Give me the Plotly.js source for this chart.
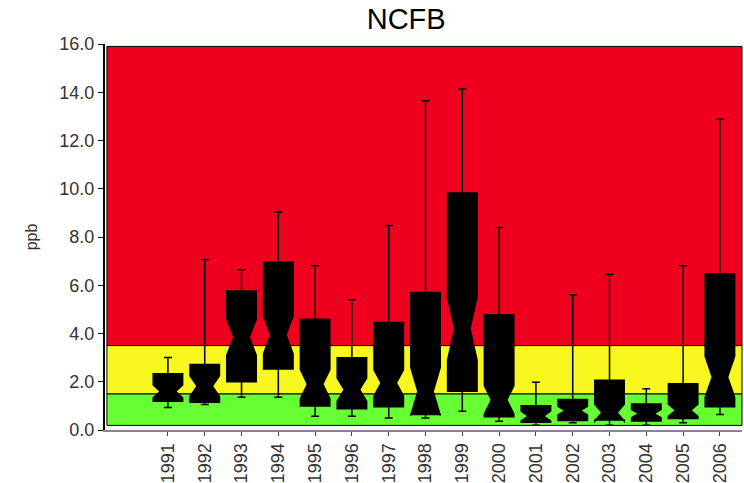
<!DOCTYPE html>
<html>
<head>
<meta charset="utf-8">
<script src="https://cdn.plot.ly/plotly-3.0.1.min.js"></script>
<style>html,body{margin:0;padding:0;background:#fff;}#chart{width:744px;height:483px;}</style>
</head>
<body>
<div id="chart"></div>
<script>
const years = ['1991','1992','1993','1994','1995','1996','1997','1998','1999','2000','2001','2002','2003','2004','2005','2006'];
const lowerWhisker = [0.93, 1.06, 1.36, 1.36, 0.57, 0.57, 0.50, 0.50, 0.78, 0.36, 0.20, 0.30, 0.20, 0.20, 0.30, 0.64];
const q1Values     = [1.19, 1.15, 2.00, 2.53, 0.99, 0.88, 0.96, 0.64, 1.61, 0.55, 0.32, 0.39, 0.41, 0.37, 0.48, 0.96];
const medians      = [1.60, 1.82, 3.85, 3.95, 1.90, 1.67, 1.95, 1.60, 4.20, 1.25, 0.58, 0.80, 0.72, 0.68, 0.82, 2.20];
const q3Values     = [2.33, 2.71, 5.76, 6.95, 4.59, 2.99, 4.46, 5.70, 9.82, 4.78, 1.01, 1.26, 2.06, 1.08, 1.92, 6.48];
const upperWhisker = [3.01, 7.07, 6.64, 9.04, 6.81, 5.40, 8.48, 13.65, 14.13, 8.39, 1.98, 5.61, 6.45, 1.71, 6.81, 12.89];
const notchSpans   = [0.27, 0.43, 0.75, 0.78, 0.60, 0.48, 0.55, 1.00, 1.30, 0.58, 0.20, 0.18, 0.35, 0.17, 0.25, 0.85];
const bandLimits = [0.19, 1.5, 3.5, 15.9];
const bandColors = ['#66FF33', '#F8F820', '#EF001E'];

const trace = {
  type: 'box',
  x: years,
  q1: q1Values,
  median: medians,
  q3: q3Values,
  lowerfence: lowerWhisker,
  upperfence: upperWhisker,
  notchspan: notchSpans,
  notched: true,
  notchwidth: 0.24,
  width: 0.8,
  whiskerwidth: 0.27,
  boxpoints: false,
  fillcolor: '#000000',
  line: {color: '#000000', width: 1.5},
  hoverinfo: 'skip',
  showlegend: false
};

const shapes = [];
for (let i = 0; i < bandColors.length; i++) {
  shapes.push({
    type: 'rect', xref: 'paper', yref: 'y',
    x0: 0.003, x1: 1, y0: bandLimits[i], y1: bandLimits[i+1],
    fillcolor: bandColors[i], line: {color: '#000', width: 1}, layer: 'below'
  });
}

const layout = {
  width: 744, height: 483,
  margin: {l: 105, r: 2, t: 44, b: 53},
  paper_bgcolor: '#ffffff',
  plot_bgcolor: '#ffffff',
  font: {family: 'Liberation Sans, Arial, sans-serif', color: '#222'},
  title: {text: 'NCFB', x: 0.546, xref: 'container', xanchor: 'center', y: 0.96, yref: 'container', yanchor: 'middle',
          font: {size: 29, color: '#000', family: 'Liberation Sans, Arial, sans-serif'}},
  showlegend: false,
  shapes: shapes,
  xaxis: {
    type: 'category',
    range: [-1.71, 15.6],
    showgrid: false, zeroline: false,
    showline: true, linecolor: '#888', linewidth: 2,
    ticks: 'outside', ticklen: 4, tickcolor: '#444', tickwidth: 1,
    tickangle: -90,
    tickfont: {size: 18, color: '#333'}
  },
  yaxis: {
    range: [0, 16],
    dtick: 2, tickformat: '.1f',
    showgrid: false, zeroline: false,
    showline: true, linecolor: '#000', linewidth: 2,
    ticks: 'outside', ticklen: 5, tickcolor: '#000', tickwidth: 1,
    tickfont: {size: 18, color: '#333'},
    title: {text: 'ppb', font: {size: 16, color: '#333'}, standoff: 18}
  }
};

Plotly.newPlot('chart', [trace], layout, {staticPlot: true, displayModeBar: false});
</script>
</body>
</html>
